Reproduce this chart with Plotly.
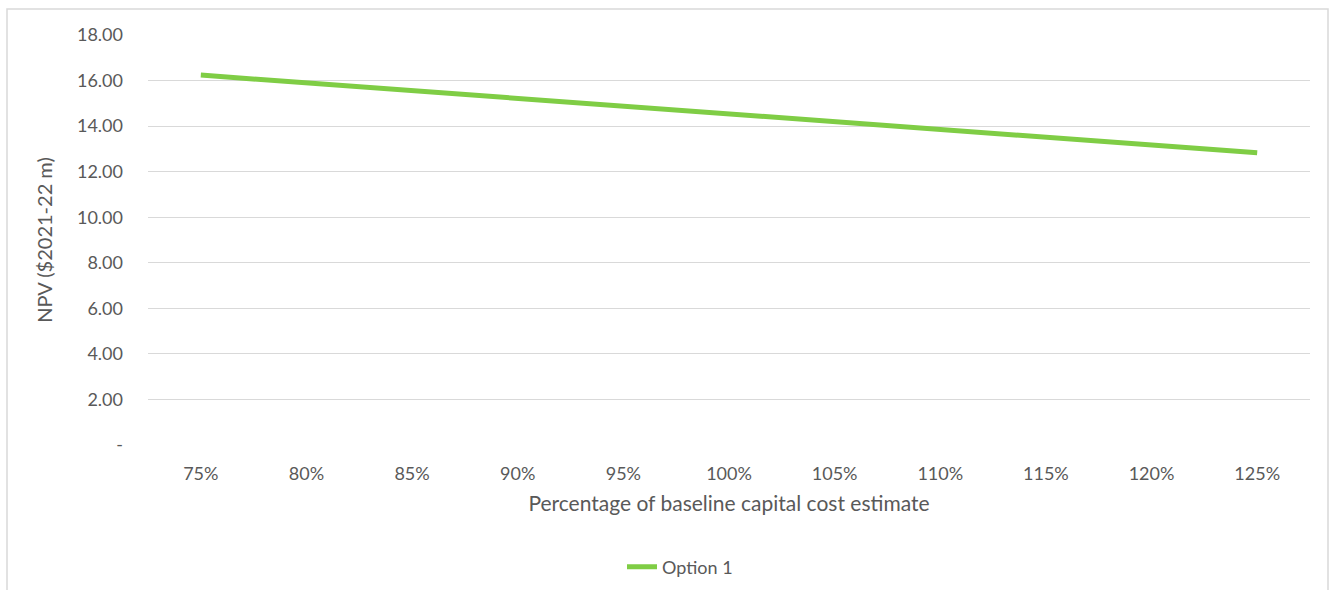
import plotly.graph_objects as go

# Sensitivity of NPV to the capital cost estimate
categories = ["75%", "80%", "85%", "90%", "95%", "100%", "105%", "110%", "115%", "120%", "125%"]
option_1 = [16.24, 15.90, 15.56, 15.22, 14.88, 14.54, 14.19, 13.85, 13.51, 13.17, 12.83]

y_tick_vals = [0, 2, 4, 6, 8, 10, 12, 14, 16, 18]
y_tick_text = ["-", "2.00", "4.00", "6.00", "8.00", "10.00", "12.00", "14.00", "16.00", "18.00"]

FONT = "Lato, 'Open Sans', sans-serif"
TEXT_COLOR = "#595959"
GRID = "#d9d9d9"

fig = go.Figure()
fig.add_trace(go.Scatter(
    x=categories, y=option_1, mode="lines", name="Option 1",
    line=dict(color="#7fcd45", width=5),
))

L, R, T, B = 148, 1310, 35, 445
W, H = 1336, 590
pw, ph = R - L, B - T

fig.update_layout(
    width=W, height=H,
    margin=dict(l=L, r=W - R, t=T, b=H - B, autoexpand=False),
    paper_bgcolor="white", plot_bgcolor="white",
    font=dict(family=FONT, color=TEXT_COLOR, size=18),
    showlegend=True,
    legend=dict(
        orientation="h", x=(680 - L) / pw, xanchor="center",
        y=(B - 567) / ph, yanchor="middle",
        font=dict(size=18, color=TEXT_COLOR),
    ),
    xaxis=dict(
        type="category", range=[-0.5, len(categories) - 0.5],
        showgrid=False, zeroline=False, showline=False, ticks="",
        ticklabelstandoff=16,
        tickfont=dict(size=18, color=TEXT_COLOR),
        title=dict(text="Percentage of baseline capital cost estimate",
                   font=dict(size=21, color=TEXT_COLOR), standoff=13),
    ),
    yaxis=dict(
        range=[0, 18], tickvals=y_tick_vals, ticktext=y_tick_text,
        showgrid=True, gridcolor=GRID, gridwidth=1,
        zeroline=False, showline=False, ticks="",
        ticklabelstandoff=24,
        tickfont=dict(size=18, color=TEXT_COLOR),
        title=dict(text="NPV ($2021-22 m)",
                   font=dict(size=20, color=TEXT_COLOR), standoff=18),
    ),
    shapes=[dict(
        type="rect", xref="paper", yref="paper",
        x0=(7 - L) / pw, x1=(1328 - L) / pw,
        y0=(B - 620) / ph, y1=(B - 9) / ph,
        line=dict(color=GRID, width=1.5), fillcolor="rgba(0,0,0,0)",
        layer="below",
    )],
)

fig.write_html("out.html")
